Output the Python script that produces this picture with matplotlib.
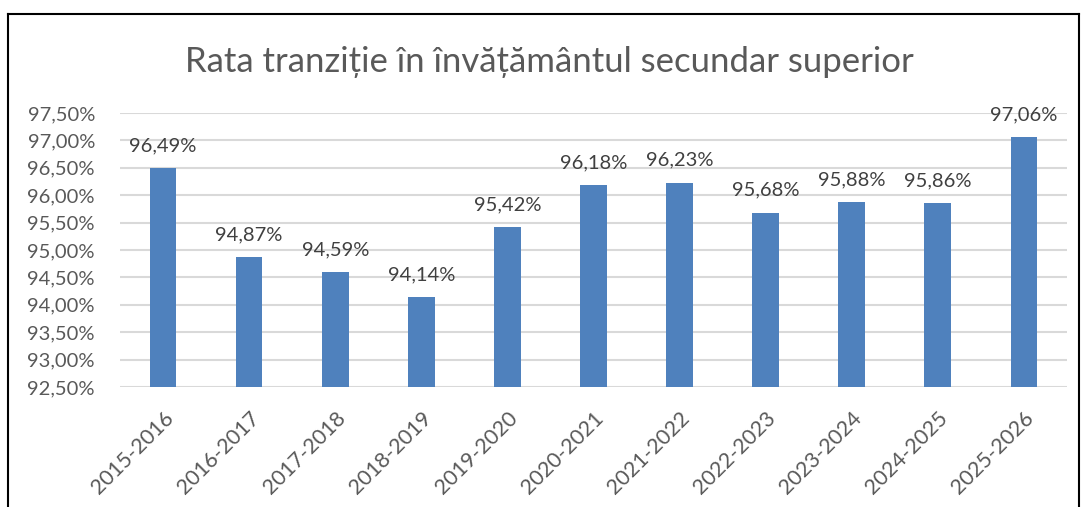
import matplotlib
matplotlib.use("Agg")
import matplotlib.pyplot as plt
from matplotlib.lines import Line2D
from matplotlib.ticker import FuncFormatter

plt.rcParams["font.family"] = ["Lato", "DejaVu Sans"]

years = ["2015-2016", "2016-2017", "2017-2018", "2018-2019", "2019-2020", "2020-2021",
         "2021-2022", "2022-2023", "2023-2024", "2024-2025", "2025-2026"]
rates = [96.49, 94.87, 94.59, 94.14, 95.42, 96.18, 96.23, 95.68, 95.88, 95.86, 97.06]
y_ticks = [92.5, 93.0, 93.5, 94.0, 94.5, 95.0, 95.5, 96.0, 96.5, 97.0, 97.5]

BAR = "#4f81bd"
TXT = "#595959"


def pct(v, _=None):
    return f"{v:.2f}".replace(".", ",") + "%"


fig = plt.figure(figsize=(10.82, 5.07), dpi=100)
ax = fig.add_axes([0.1109, 0.2367, 0.8752, 0.5404])

x = range(len(years))
ax.bar(x, rates, width=0.31, color=BAR, zorder=3)
for xi, v in zip(x, rates):
    ax.annotate(pct(v), (xi, v), textcoords="offset points", xytext=(0, 10),
                ha="center", va="bottom", fontsize=14.5, color="#404040")

ax.set_ylim(92.5, 97.5)
ax.set_xlim(-0.5, len(years) - 0.5)
ax.set_yticks(y_ticks)
ax.yaxis.set_major_formatter(FuncFormatter(pct))
ax.set_xticks(list(x))
ax.set_xticklabels(years, rotation=45, ha="right", rotation_mode="anchor")
ax.tick_params(axis="y", length=0, pad=18, labelsize=14.5, labelcolor=TXT)
ax.tick_params(axis="x", length=0, pad=15, labelsize=15.5, labelcolor=TXT)
ax.grid(axis="y", color="#d9d9d9", lw=1.5, zorder=0)
for s in ax.spines.values():
    s.set_visible(False)

fig.text(0.508, 0.878, "Rata tranziție în învățământul secundar superior",
         ha="center", va="center", fontsize=25, color=TXT)

# chart frame
l, r, t = 8 / 1082, 1079 / 1082, 1 - 14 / 507
for xs, ys in [([l, l], [-0.01, t]), ([l, r], [t, t]), ([r, r], [t, -0.01])]:
    fig.add_artist(Line2D(xs, ys, transform=fig.transFigure, color="black", lw=1.5))

fig.savefig("out.png", dpi=100)
